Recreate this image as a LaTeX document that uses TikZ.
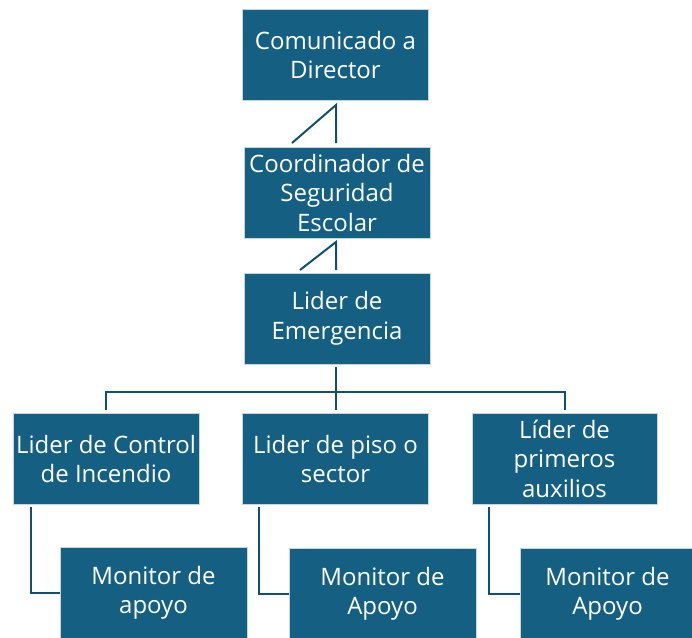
\documentclass[tikz,border=0pt]{standalone}
\usepackage{fontspec}
\setmainfont{Open Sans}
\definecolor{boxblue}{HTML}{156082}
\definecolor{lineblue}{HTML}{124F6E}
\tikzset{
  x=1pt, y=-1pt,
  orgbox/.style={rectangle, fill=boxblue, draw=white!75!boxblue, line width=0.8pt,
    minimum width=186pt, minimum height=91pt, inner sep=0pt, text=white,
    font=\fontsize{24}{29.5}\selectfont, align=center},
  conn/.style={draw=lineblue, line width=2pt},
}
\begin{document}
\begin{tikzpicture}
\useasboundingbox (0,0) rectangle (692,637);
\node[orgbox] (dir) at (335.5,55) {Comunicado a\\Director};
\node[orgbox] (coord) at (337,192.5) {Coordinador de\\Seguridad\\Escolar};
\node[orgbox] (lider) at (337,318.5) {Lider de\\Emergencia};
\node[orgbox] (inc) at (106,459) {Lider de Control\\de Incendio};
\node[orgbox] (piso) at (335.5,459) {Lider de piso o\\sector};
\node[orgbox, minimum width=185pt] (aux) at (564.5,458.5) {Líder de\\primeros\\auxilios};
\node[orgbox, minimum width=187pt, minimum height=92pt] (m1) at (153.5,593) {Monitor de\\apoyo};
\node[orgbox, minimum width=187pt, minimum height=92pt] (m2) at (382.5,594) {Monitor de\\Apoyo};
\node[orgbox, minimum width=175pt, minimum height=92pt] (m3) at (607.5,594) {Monitor de\\Apoyo};
% connectors
\coordinate (c1a) at (336,105);
\coordinate (c1b) at (336,143);
\coordinate (c1c) at (292,143);
\draw[conn] (c1b) -- (c1a) -- (c1c);
\coordinate (c2a) at (336,242);
\coordinate (c2b) at (336,270);
\coordinate (c2c) at (300,270);
\draw[conn] (c2b) -- (c2a) -- (c2c);
\coordinate (bus) at (336,392);
\draw[conn] (336,367) -- (bus);
\draw[conn] (106,410) -- (106,392) -- (565,392) -- (565,410);
\draw[conn] (bus) -- (336,410);
\draw[conn] (31,507) |- (m1.west);
\draw[conn] (259,507) |- (m2.west);
\draw[conn] (489,507) |- (m3.west);
\end{tikzpicture}
\end{document}
